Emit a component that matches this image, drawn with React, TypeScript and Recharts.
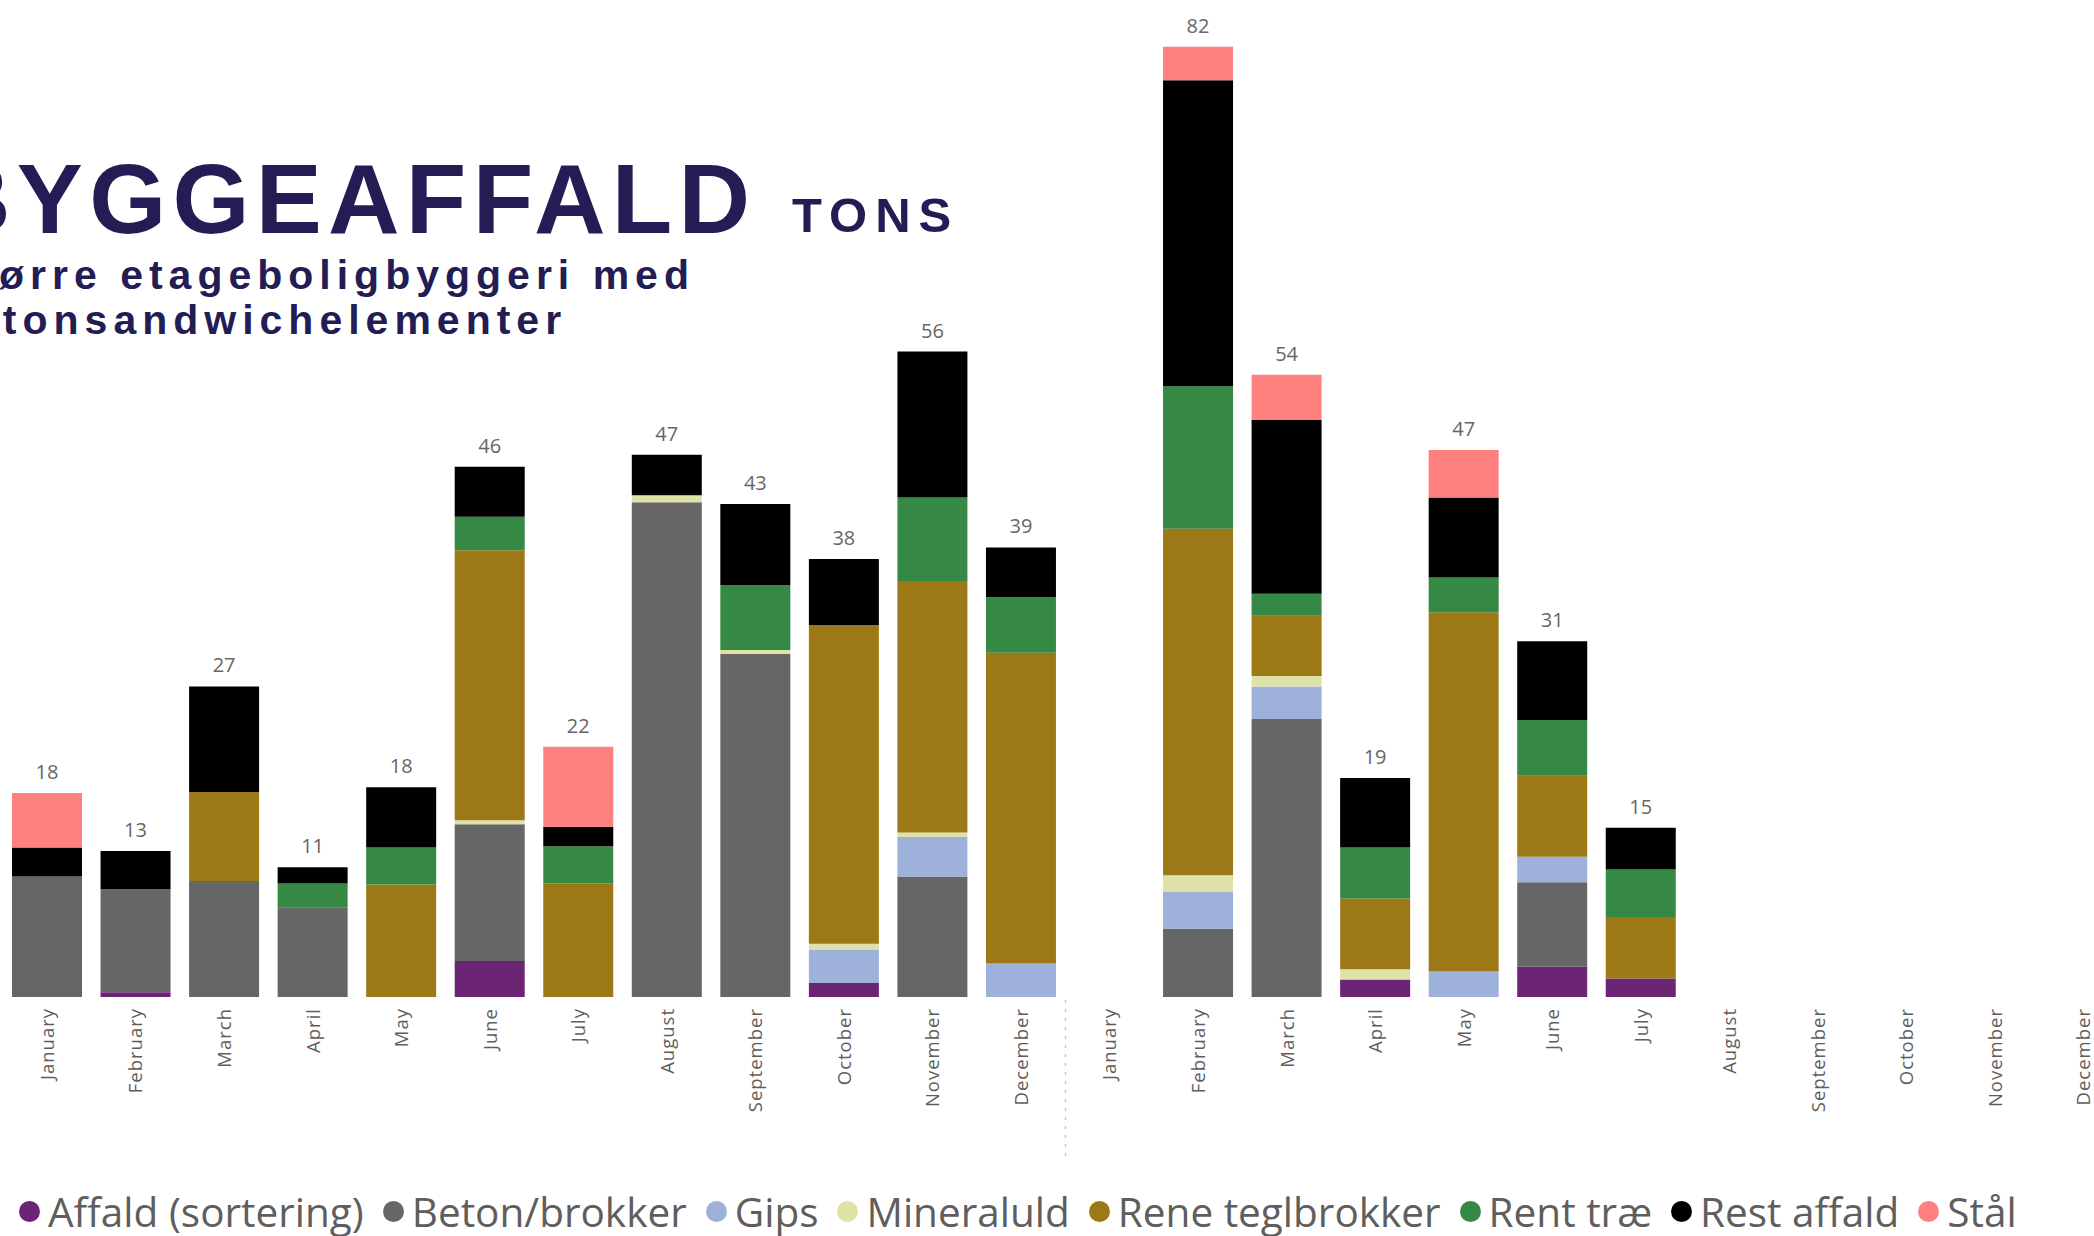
import { BarChart, Bar, XAxis, YAxis, LabelList } from 'recharts';

const months = ['January', 'February', 'March', 'April', 'May', 'June', 'July', 'August', 'September', 'October', 'November', 'December'];
// two years side by side
const periods = [...months, ...months];

const affald = [0, 0.4, 0, 0, 0, 3.1, 0, 0, 0, 1.2, 0, 0, 0, 0, 0, 1.5, 0, 2.6, 1.6, 0, 0, 0, 0, 0];
const beton = [10.4, 8.9, 10.0, 7.7, 0, 11.8, 0, 42.7, 29.6, 0, 10.4, 0, 0, 5.9, 24.0, 0, 0, 7.3, 0, 0, 0, 0, 0, 0];
const gips = [0, 0, 0, 0, 0, 0, 0, 0, 0, 2.9, 3.4, 2.9, 0, 3.2, 2.8, 0, 2.2, 2.2, 0, 0, 0, 0, 0, 0];
const mineraluld = [0, 0, 0, 0, 0, 0.35, 0, 0.6, 0.35, 0.5, 0.4, 0, 0, 1.4, 0.9, 0.9, 0, 0, 0, 0, 0, 0, 0, 0];
const teglbrokker = [0, 0, 7.7, 0, 9.7, 23.3, 9.8, 0, 0, 27.5, 21.7, 26.8, 0, 29.9, 5.2, 6.1, 31.0, 7.0, 5.3, 0, 0, 0, 0, 0];
const traae = [0, 0, 0, 2.1, 3.2, 2.9, 3.2, 0, 5.6, 0, 7.2, 4.8, 0, 12.3, 1.9, 4.4, 3.0, 4.8, 4.1, 0, 0, 0, 0, 0];
const restAffald = [2.5, 3.3, 9.1, 1.4, 5.2, 4.3, 1.7, 3.5, 7.0, 5.7, 12.6, 4.3, 0, 26.4, 15.0, 6.0, 6.9, 6.8, 3.6, 0, 0, 0, 0, 0];
const staal = [4.7, 0, 0, 0, 0, 0, 6.9, 0, 0, 0, 0, 0, 0, 2.9, 3.9, 0, 4.1, 0, 0, 0, 0, 0, 0, 0];

const series = [
  { key: 'affald', name: 'Affald (sortering)', color: '#6B2574', values: affald },
  { key: 'beton', name: 'Beton/brokker', color: '#666666', values: beton },
  { key: 'gips', name: 'Gips', color: '#9EB1DA', values: gips },
  { key: 'mineraluld', name: 'Mineraluld', color: '#DFE2A7', values: mineraluld },
  { key: 'tegl', name: 'Rene teglbrokker', color: '#9C7816', values: teglbrokker },
  { key: 'trae', name: 'Rent træ', color: '#358944', values: traae },
  { key: 'rest', name: 'Rest affald', color: '#000000', values: restAffald },
  { key: 'staal', name: 'Stål', color: '#FE8180', values: staal },
];

const data = periods.map((label, i) => {
  const row: any = { id: String(i), label };
  series.forEach((s) => { row[s.key] = s.values[i]; });
  return row;
});

const CHART_W = 2128;
const CHART_H = 1140;
const MARGIN = { top: 12, right: 0, bottom: 0, left: 3 };
const BAND = (CHART_W - MARGIN.left - MARGIN.right) / periods.length;
const uiFont = "'Segoe UI', 'Open Sans', sans-serif";
const titleFont = "'Liberation Sans', Arial, sans-serif";

const topKey = (row: any) => {
  let k: string | null = null;
  series.forEach((s) => { if (row[s.key] > 0) k = s.key; });
  return k;
};

// total on top of each stack, drawn by whichever series is topmost
const totalLabel = (key: string) => (props: any) => {
  const vb = props.viewBox || props;
  if (vb == null || vb.x == null) return null;
  const idx = Math.floor((vb.x + vb.width / 2 - MARGIN.left) / BAND);
  const row = data[idx];
  if (!row || topKey(row) !== key) return null;
  const top = Math.min(vb.y, vb.y + vb.height);
  const total = series.reduce((sum, s) => sum + row[s.key], 0);
  return (
    <text x={vb.x + vb.width / 2} y={top - 14} textAnchor="middle" fill="#666666" fontSize={20} fontFamily={uiFont}>
      {Math.round(total)}
    </text>
  );
};

const MonthTick = (props: any) => {
  const { x, y, payload } = props;
  const row = data[Number(payload.value)];
  return (
    <g transform={`translate(${x},${y + 11})`}>
      <text transform="rotate(-90)" textAnchor="end" dy="0.36em" fill="#605E5C" fontSize={18.5} letterSpacing={1} fontFamily={uiFont}>
        {row ? row.label : ''}
      </text>
    </g>
  );
};

export default function App() {
  const sepX = MARGIN.left + BAND * 12;
  return (
    <div style={{ position: 'absolute', left: 0, top: 0, width: 2094, height: 1236, overflow: 'hidden', background: '#fff' }}>
      <div style={{ position: 'absolute', left: 0, top: 0 }}>
        <BarChart width={CHART_W} height={CHART_H} data={data} margin={MARGIN}>
          <XAxis dataKey="id" interval={0} tickLine={false} axisLine={false} tickSize={0} tickMargin={0} height={143} tick={<MonthTick />} />
          <YAxis hide domain={[0, 85]} />
          {series.map((s) => (
            <Bar key={s.key} dataKey={s.key} name={s.name} stackId="a" fill={s.color} barSize={70} isAnimationActive={false}>
              <LabelList dataKey={s.key} content={totalLabel(s.key)} />
            </Bar>
          ))}
        </BarChart>
      </div>

      <svg width={2094} height={1236} style={{ position: 'absolute', left: 0, top: 0, pointerEvents: 'none' }}>
        <text x={-61} y={233} fontFamily={titleFont} fontWeight={700} fontSize={99} letterSpacing={6.3} fill="#231C55">BYGGEAFFALD</text>
        <text x={792} y={232} fontFamily={titleFont} fontWeight={700} fontSize={49} letterSpacing={8} fill="#231C55">TONS</text>
        <text x={-54} y={289} fontFamily={titleFont} fontWeight={700} fontSize={41} letterSpacing={6} fill="#231C55">Større etageboligbyggeri med</text>
        <text x={-57} y={334} fontFamily={titleFont} fontWeight={700} fontSize={41} letterSpacing={6} fill="#231C55">betonsandwichelementer</text>
        <line x1={sepX} x2={sepX} y1={1000} y2={1162} stroke="#c8c8c8" strokeWidth={1.5} strokeDasharray="3 6" />
      </svg>

      <div style={{ position: 'absolute', left: 19, top: 1186, height: 50, display: 'flex', alignItems: 'center', fontFamily: uiFont, fontSize: 40.5, color: '#605E5C', whiteSpace: 'nowrap' }}>
        {series.map((s) => (
          <div key={s.key} style={{ display: 'flex', alignItems: 'center', marginRight: 19 }}>
            <span style={{ width: 21, height: 21, borderRadius: '50%', background: s.color, display: 'inline-block', marginRight: 8 }} />
            <span>{s.name}</span>
          </div>
        ))}
      </div>
    </div>
  );
}
